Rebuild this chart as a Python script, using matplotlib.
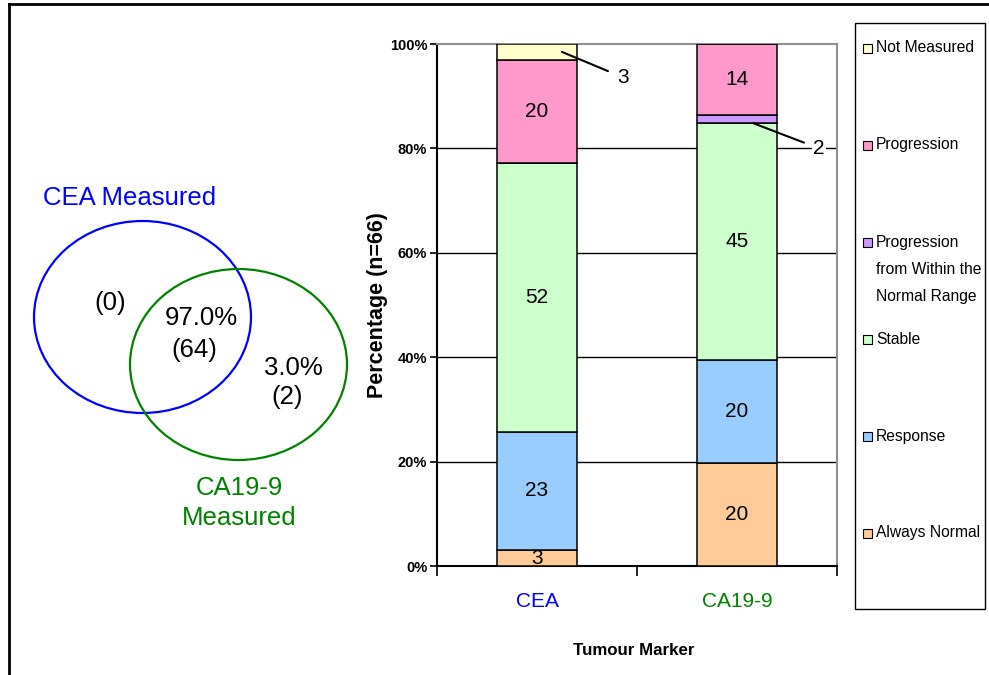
import numpy as np
import matplotlib
matplotlib.use("Agg")
import matplotlib.pyplot as plt
from matplotlib.patches import Ellipse, Rectangle
from matplotlib import font_manager

# ---- data ----
n_total = 66
markers = ["CEA", "CA19-9"]
marker_colors = ["#0000FF", "#008000"]

# stacking order, bottom to top
outcomes = ["Always Normal", "Response", "Stable",
            "Progression\nfrom Within the\nNormal Range", "Progression", "Not Measured"]
outcome_colors = ["#FFCC99", "#99CCFF", "#CCFFCC", "#CC99FF", "#FF99CC", "#FFFFCC"]
cea_counts = [2, 15, 34, 0, 13, 2]
ca199_counts = [13, 13, 30, 1, 9, 0]

# venn: CEA only, both, CA19-9 only
venn_counts = [0, 64, 2]

# ---- fonts ----
names = {f.name for f in font_manager.fontManager.ttflist}
if "Liberation Sans Narrow" in names:
    narrow, nscale = "Liberation Sans Narrow", 1.0
else:
    narrow, nscale = "Liberation Sans", 0.84
plt.rcParams["font.family"] = "Liberation Sans"

W, H = 989, 675
fig = plt.figure(figsize=(W / 100, H / 100), dpi=100)

# pixel-space overlay for the border, venn and legend
pix = fig.add_axes([0, 0, 1, 1], zorder=0)
pix.set_xlim(0, W)
pix.set_ylim(H, 0)
pix.axis("off")

pix.plot([9, 9], [H, 4], color="black", lw=2)
pix.plot([9, W], [4, 4], color="black", lw=2)

# venn diagram
pix.add_patch(Ellipse((142.5, 317), 217, 192, fill=False, ec=marker_colors[0], lw=1.6))
pix.add_patch(Ellipse((238.5, 364.5), 217, 191, fill=False, ec=marker_colors[1], lw=1.6))
vs = 18.5
pix.text(130, 198, "CEA Measured", color=marker_colors[0], fontsize=vs, ha="center", va="center")
pix.text(239, 488, "CA19-9", color=marker_colors[1], fontsize=vs, ha="center", va="center")
pix.text(239, 518, "Measured", color=marker_colors[1], fontsize=vs, ha="center", va="center")
pix.text(110, 303, f"({venn_counts[0]})", fontsize=vs, ha="center", va="center")
pix.text(201, 318, f"{venn_counts[1] / n_total * 100:.1f}%", fontsize=vs, ha="center", va="center")
pix.text(194, 350, f"({venn_counts[1]})", fontsize=vs, ha="center", va="center")
pix.text(293, 368, f"{venn_counts[2] / n_total * 100:.1f}%", fontsize=vs, ha="center", va="center")
pix.text(287, 397, f"({venn_counts[2]})", fontsize=vs, ha="center", va="center")

# legend box
pix.add_patch(Rectangle((855, 23), 130, 586, fill=False, ec="black", lw=1))
ly = 48
for lab, col in zip(outcomes[::-1], outcome_colors[::-1]):
    pix.add_patch(Rectangle((863, ly - 4.5), 9, 9, fc=col, ec="black", lw=0.8))
    for j, line in enumerate(lab.split("\n")):
        pix.text(876, ly + 27.5 * j, line, fontsize=13.4 * nscale, family=narrow,
                 ha="left", va="center")
    ly += 97

# ---- stacked bar chart ----
ax = fig.add_axes([437 / W, 1 - 566 / H, 400 / W, 522 / H], zorder=1)
x = np.arange(len(markers))
pcts = np.array([cea_counts, ca199_counts], dtype=float) / n_total * 100
bottoms = np.zeros(len(markers))
for k in range(len(outcomes)):
    vals = pcts[:, k]
    ax.bar(x, vals, width=0.4, bottom=bottoms, color=outcome_colors[k],
           edgecolor="black", linewidth=1.1, zorder=3)
    for i in range(len(markers)):
        v = vals[i]
        if v <= 0:
            continue
        outside = (i == 0 and k == 5) or (i == 1 and k == 3)
        if not outside:
            ax.text(x[i], bottoms[i] + v / 2, f"{int(round(v))}", fontsize=15,
                    ha="center", va="center", zorder=4)
    bottoms += vals

# labels for the thin segments
cea_nm_mid = 100 - pcts[0, 5] / 2
ax.annotate(f"{int(round(pcts[0, 5]))}", xy=(0.125, cea_nm_mid), xytext=(0.43, 93.6),
            fontsize=15, ha="center", va="center", zorder=5,
            arrowprops=dict(arrowstyle="-", color="black", lw=1.5, shrinkA=5, shrinkB=0))
ca_pw_bottom = pcts[1, :3].sum()
ax.annotate(f"{int(round(pcts[1, 3]))}", xy=(1.08, ca_pw_bottom), xytext=(1.41, 80),
            fontsize=15, ha="center", va="center", zorder=5,
            bbox=dict(fc="white", ec="none", pad=1),
            arrowprops=dict(arrowstyle="-", color="black", lw=1.5, shrinkA=6, shrinkB=0))

ax.set_xlim(-0.5, 1.5)
ax.set_ylim(0, 100)
ax.set_yticks([0, 20, 40, 60, 80, 100])
ax.set_yticklabels(["0%", "20%", "40%", "60%", "80%", "100%"],
                   family=narrow, fontweight="bold", fontsize=12.5 * nscale)
ax.tick_params(axis="y", direction="out", length=5, width=1.2, pad=2)
for g in [20, 40, 60, 80]:
    ax.axhline(g, color="black", lw=1, zorder=1)

ax.set_xticks(x)
ax.set_xticklabels(markers, fontsize=15)
for t, c in zip(ax.get_xticklabels(), marker_colors):
    t.set_color(c)
ax.tick_params(axis="x", which="major", length=0, pad=19)
ax.set_xticks([-0.5, 0.5, 1.5], minor=True)
ax.tick_params(axis="x", which="minor", direction="out", length=7, width=1.2)

ax.spines["left"].set_linewidth(1.5)
ax.spines["bottom"].set_linewidth(1.5)
ax.spines["top"].set_color("#909090")
ax.spines["right"].set_color("#909090")
ax.spines["top"].set_linewidth(1.5)
ax.spines["right"].set_linewidth(1.5)

ax.set_ylabel("Percentage (n=66)", fontsize=15.5, fontweight="bold")
ax.yaxis.set_label_coords(-0.122, 0.5)
ax.set_xlabel("Tumour Marker", family=narrow, fontsize=14.5 * nscale, fontweight="bold")
ax.xaxis.set_label_coords(0.4925, -0.147)

fig.savefig("out.png", dpi=100)
